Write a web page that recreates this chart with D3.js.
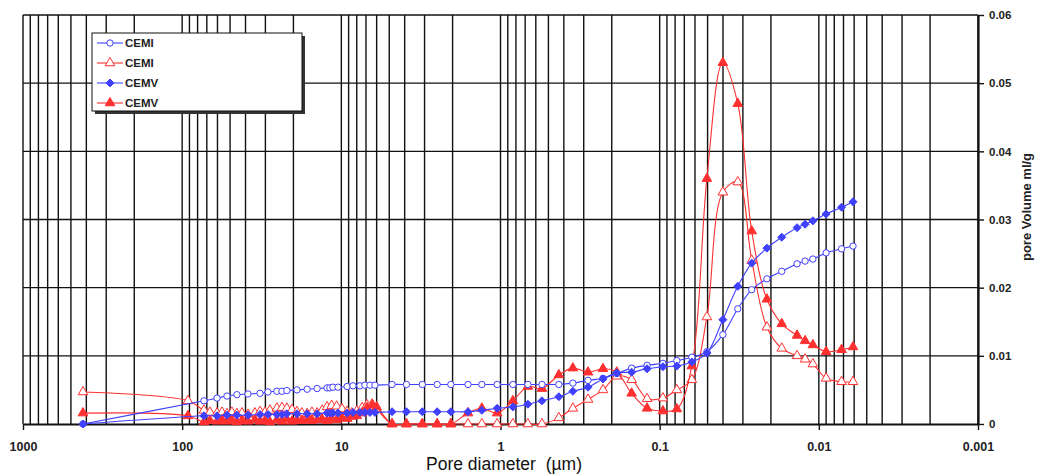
<!DOCTYPE html>
<html>
<head>
<meta charset="utf-8">
<script src="https://cdn.jsdelivr.net/npm/d3@7"></script>
<style>
  html, body { margin: 0; padding: 0; background: #fff; }
  svg { display: block; }
  text { font-family: Arial, "Liberation Sans", sans-serif; }
</style>
</head>
<body>
<svg id="chart" width="1041" height="474"></svg>
<script>
// ---------- DATA ----------
const seriesNames = ["CEMI", "CEMI", "CEMV", "CEMV"];
const xTickLabels = ["1000", "100", "10", "1", "0.1", "0.01", "0.001"];
const xTickValues = [1000, 100, 10, 1, 0.1, 0.01, 0.001];
const yTickValues = [0, 0.01, 0.02, 0.03, 0.04, 0.05, 0.06];
const yTickLabels = ["0", "0.01", "0.02", "0.03", "0.04", "0.05", "0.06"];

// pore diameters (µm) for the blue series
const blueDiam = [420, 73, 60.4, 52.3, 45.3, 38.6, 32.4, 28.9, 25.4, 23.6, 22.0, 19.0, 16.4, 14.2, 12.3, 11.8, 11.3, 10.5, 9.2, 8.45, 7.64, 7.11, 6.61, 6.15,
  4.8, 3.9, 3.1, 2.5, 2.05, 1.6, 1.31, 1.05, 0.836, 0.673, 0.549, 0.43, 0.351, 0.282, 0.227, 0.186, 0.150, 0.120, 0.0954, 0.078, 0.0628,
  0.0505, 0.0401, 0.0323, 0.0264, 0.0212, 0.0171, 0.0137, 0.0122, 0.0109, 0.0090, 0.0072, 0.0061];

// CEMI (open circles, blue)
const cemiBlue = [0, 0.0034, 0.0038, 0.0041, 0.0043, 0.0044, 0.0045, 0.0047, 0.0048, 0.0048, 0.0049, 0.0050, 0.0051, 0.0052, 0.0053, 0.0053, 0.0054, 0.0054, 0.0055, 0.0056, 0.0056, 0.0057, 0.0057, 0.0057,
  0.0058, 0.0058, 0.0058, 0.0058, 0.0058, 0.0058, 0.0058, 0.0058, 0.0058, 0.0058, 0.0058, 0.0058, 0.0060, 0.0064, 0.0067, 0.0074, 0.0082, 0.0086, 0.0089, 0.0093, 0.0098,
  0.0106, 0.0131, 0.0169, 0.0197, 0.0213, 0.0224, 0.0235, 0.0239, 0.0242, 0.0251, 0.0257, 0.0261];

// CEMV (filled diamonds, blue)
const cemvBlue = [0, 0.0012, 0.0012, 0.0013, 0.0013, 0.0013, 0.0014, 0.0014, 0.0014, 0.0014, 0.0015, 0.0015, 0.0015, 0.0015, 0.0016, 0.0016, 0.0016, 0.0016, 0.0016, 0.0017, 0.0017, 0.0017, 0.0017, 0.0017,
  0.0018, 0.0018, 0.0018, 0.0018, 0.0018, 0.0018, 0.0020, 0.0023, 0.0025, 0.0029, 0.0034, 0.0040, 0.0048, 0.0054, 0.0066, 0.0075, 0.0076, 0.0081, 0.0084, 0.0085, 0.0091,
  0.0104, 0.0153, 0.0202, 0.0236, 0.0258, 0.0274, 0.0288, 0.0293, 0.0298, 0.0308, 0.0318, 0.0326];

// pore diameters (µm) for the red series
const redDiam = [420, 92,
  73, 66.9, 60.4, 56.2, 52.3, 48.7, 45.3, 42.1, 38.6, 34.9, 32.4, 30.2, 28.1, 25.4, 23.6, 22.0, 20.4, 19.0, 17.7, 16.4, 15.3, 14.2, 13.2, 12.3, 11.5, 10.7, 9.9, 9.2, 8.6, 8.0, 7.4, 6.9, 6.4, 6.0,
  4.8, 3.9, 3.1, 2.5, 2.05, 1.6, 1.31, 1.05, 0.836, 0.673, 0.549, 0.43, 0.351, 0.282, 0.227, 0.186, 0.150, 0.120, 0.0954, 0.078, 0.0628,
  0.0505, 0.0401, 0.0323, 0.0264, 0.0212, 0.0171, 0.0137, 0.0122, 0.0109, 0.0090, 0.0072, 0.0061];

// CEMI (open triangles, red)
const cemiRed = [0.0047, 0.0034,
  0.0020, 0.0017, 0.0016, 0.0017, 0.0015, 0.0017, 0.0015, 0.0016, 0.0014, 0.0016, 0.0018, 0.0017, 0.0020, 0.0023, 0.0024, 0.0023, 0.0021, 0.0018, 0.0016, 0.0015, 0.0017, 0.0016, 0.0020, 0.0025, 0.0027, 0.0026, 0.0022, 0.0018, 0.0016, 0.0019, 0.0024, 0.0028, 0.0029, 0.0022,
  0, 0, 0, 0, 0, 0, 0, 0, 0, 0, 0, 0.0009, 0.0023, 0.0036, 0.0050, 0.0070, 0.0065, 0.0037, 0.0038, 0.0050, 0.0065,
  0.0157, 0.0340, 0.0355, 0.0240, 0.0142, 0.0111, 0.0100, 0.0095, 0.0088, 0.0067, 0.0062, 0.0062];

// CEMV (filled triangles, red)
const cemvRed = [0.0016, 0.0012,
  0.0003, 0.0005, 0.0004, 0.0006, 0.0004, 0.0006, 0.0003, 0.0005, 0.0004, 0.0006, 0.0004, 0.0005, 0.0003, 0.0006, 0.0004, 0.0007, 0.0004, 0.0006, 0.0005, 0.0007, 0.0005, 0.0006, 0.0007, 0.0005, 0.0008, 0.0006, 0.0009, 0.0008, 0.0011, 0.0012, 0.0016, 0.0024, 0.0028, 0.0025,
  0, 0, 0, 0, 0, 0.0016, 0.0023, 0.0016, 0.0034, 0.0055, 0.0052, 0.0072, 0.0082, 0.0076, 0.0081, 0.0076, 0.0045, 0.0023, 0.0019, 0.0022, 0.0085,
  0.0360, 0.0530, 0.0470, 0.0283, 0.0183, 0.0147, 0.0130, 0.0122, 0.0116, 0.0106, 0.0109, 0.0113];

// ---------- CHART ----------
(function () {
const svg = d3.select("#chart");
const pL = 23, pR = 978, pT = 15, pB = 424;
const x = d3.scaleLog().domain([1000, 0.001]).range([pL, pR]);
const y = d3.scaleLinear().domain([0, 0.06]).range([pB, pT]);

const BLUE = "#4040ff", RED = "#ff3030";

// vertical grid at every minor log tick
const gridX = [];
for (let k = -3; k <= 2; k++) {
  for (let m = 1; m <= 9; m++) gridX.push(m * Math.pow(10, k));
}
gridX.push(1000);
svg.append("g").selectAll("line").data(gridX).join("line")
  .attr("x1", d => x(d)).attr("x2", d => x(d))
  .attr("y1", pT).attr("y2", pB)
  .attr("stroke", "#111").attr("stroke-width", 1.4);

// horizontal grid
svg.append("g").selectAll("line").data(yTickValues.slice(1)).join("line")
  .attr("x1", pL).attr("x2", pR)
  .attr("y1", d => y(d)).attr("y2", d => y(d))
  .attr("stroke", "#111").attr("stroke-width", 1.4);

// bottom axis
const xAxis = d3.axisBottom(x).tickValues(xTickValues)
  .tickFormat((d, i) => xTickLabels[i]).tickSize(6).tickSizeOuter(0);
const gx = svg.append("g").attr("transform", `translate(0,${pB})`).call(xAxis);
gx.select(".domain").attr("stroke", "#111").attr("stroke-width", 2.2);
gx.selectAll(".tick line").attr("stroke", "#111").attr("stroke-width", 1.4);
gx.selectAll(".tick text").attr("dy", "1.4em").attr("font-size", 12.5).attr("font-weight", "bold")
  .attr("fill", "#222").attr("font-family", "Arial, 'Liberation Sans', sans-serif");

// right axis
const yAxis = d3.axisRight(y).tickValues(yTickValues)
  .tickFormat((d, i) => yTickLabels[i]).tickSize(6).tickSizeOuter(0);
const gy = svg.append("g").attr("transform", `translate(${pR},0)`).call(yAxis);
gy.select(".domain").attr("stroke", "#111").attr("stroke-width", 2.2);
gy.selectAll(".tick line").attr("stroke", "#111").attr("stroke-width", 1.4);
gy.selectAll(".tick text").attr("x", 11).attr("font-size", 11.5).attr("font-weight", "bold")
  .attr("fill", "#222").attr("font-family", "Arial, 'Liberation Sans', sans-serif");

// axis titles
svg.append("text").attr("x", 504).attr("y", 470).attr("text-anchor", "middle")
  .attr("font-size", 17.5).attr("fill", "#111").text("Pore diameter\u00a0 (µm)");
svg.append("text").attr("transform", "translate(1031,207) rotate(-90)")
  .attr("text-anchor", "middle").attr("font-size", 13).attr("font-weight", "bold")
  .attr("fill", "#222").text("pore Volume ml/g");

// series
const series = [
  { name: seriesNames[0], diam: blueDiam, vals: cemiBlue, color: BLUE, marker: "circle", filled: false },
  { name: seriesNames[1], diam: redDiam, vals: cemiRed, color: RED, marker: "triangle", filled: false },
  { name: seriesNames[2], diam: blueDiam, vals: cemvBlue, color: BLUE, marker: "diamond", filled: true },
  { name: seriesNames[3], diam: redDiam, vals: cemvRed, color: RED, marker: "triangle", filled: true }
];

const line = d3.line().x(d => x(d[0])).y(d => y(d[1])).curve(d3.curveCatmullRom.alpha(0.5));
const symbolFor = s => {
  if (s.marker === "circle") return d3.symbol().type(d3.symbolCircle).size(32)();
  if (s.marker === "diamond") return "M0,-4L4,0L0,4L-4,0Z";
  return d3.symbol().type(d3.symbolTriangle).size(40)();
};

const drawOrder = [1, 3, 0, 2];
drawOrder.forEach(i => {
  const s = series[i];
  const pts = s.diam.map((d, j) => [d, s.vals[j]]);
  const g = svg.append("g");
  g.append("path").datum(pts).attr("d", line)
    .attr("fill", "none").attr("stroke", s.color).attr("stroke-width", 1.1);
  const sym = symbolFor(s);
  g.selectAll("path.m").data(pts).join("path").attr("class", "m")
    .attr("d", sym)
    .attr("transform", d => `translate(${x(d[0])},${y(d[1])})`)
    .attr("fill", s.filled ? s.color : "#fff")
    .attr("stroke", s.color).attr("stroke-width", 1);
});

// legend
const lg = svg.append("g");
lg.append("rect").attr("x", 95).attr("y", 36).attr("width", 210).attr("height", 78).attr("fill", "#333");
lg.append("rect").attr("x", 92).attr("y", 33).attr("width", 210).attr("height", 78)
  .attr("fill", "#fff").attr("stroke", "#111").attr("stroke-width", 1);
const legendRows = [43, 63, 83, 103];
series.forEach((s, i) => {
  const yy = legendRows[i];
  lg.append("line").attr("x1", 97).attr("x2", 123).attr("y1", yy).attr("y2", yy)
    .attr("stroke", s.color).attr("stroke-width", 1.1);
  lg.append("path").attr("d", symbolFor(s)).attr("transform", `translate(110,${yy})`)
    .attr("fill", s.filled ? s.color : "#fff").attr("stroke", s.color).attr("stroke-width", 1);
  lg.append("text").attr("x", 125).attr("y", yy + 4).attr("font-size", 11.5).attr("font-weight", "bold")
    .attr("fill", "#222").text(s.name);
});
})();
</script>
</body>
</html>
